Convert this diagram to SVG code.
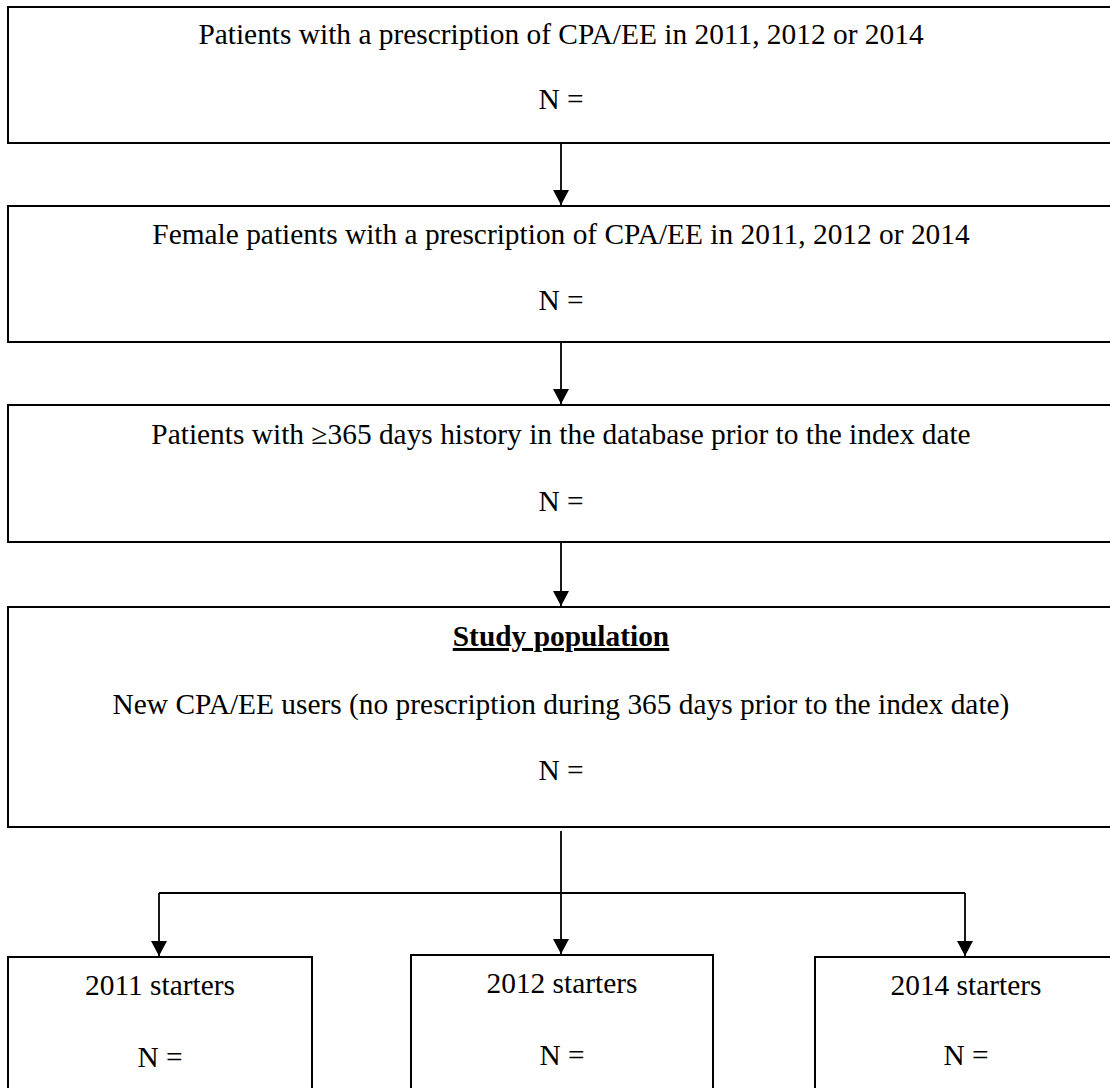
<svg xmlns="http://www.w3.org/2000/svg" width="1110" height="1088" viewBox="0 0 1110 1088">
<style>
.box{fill:#fff;stroke:#000;stroke-width:2}
.t{font-family:"Liberation Serif","Times New Roman",serif;font-size:29.4px;fill:#000;text-anchor:middle}
.b{font-weight:bold;text-decoration:underline}
.c{fill:none;stroke:#000;stroke-width:1.8}
</style>
<defs>
<marker id="ah" markerUnits="userSpaceOnUse" markerWidth="16" markerHeight="16" viewBox="0 0 16 16" refX="15" refY="8" orient="auto">
<path d="M0,0 L15,8 L0,16 Z" fill="#000"/>
</marker>
</defs>
<rect width="1110" height="1088" fill="#fff"/>
<g id="n1">
<rect class="box" x="8" y="7" width="1106" height="136"/>
<text class="t" x="561" y="44">Patients with a prescription of CPA/EE in 2011, 2012 or 2014</text>
<text class="t" x="561" y="109">N =</text>
</g>
<g id="n2">
<rect class="box" x="8" y="206" width="1106" height="136"/>
<text class="t" x="561" y="244">Female patients with a prescription of CPA/EE in 2011, 2012 or 2014</text>
<text class="t" x="561" y="310">N =</text>
</g>
<g id="n3">
<rect class="box" x="8" y="405" width="1106" height="137"/>
<text class="t" x="561" y="444">Patients with ≥365 days history in the database prior to the index date</text>
<text class="t" x="561" y="511">N =</text>
</g>
<g id="n4">
<rect class="box" x="8" y="607" width="1106" height="220"/>
<text class="t b" x="561" y="646">Study population</text>
<text class="t" x="561" y="714">New CPA/EE users (no prescription during 365 days prior to the index date)</text>
<text class="t" x="561" y="780">N =</text>
</g>
<g id="n5">
<rect class="box" x="8" y="957" width="304" height="150"/>
<text class="t" x="160" y="995">2011 starters</text>
<text class="t" x="160" y="1067">N =</text>
</g>
<g id="n6">
<rect class="box" x="411" y="955" width="302" height="150"/>
<text class="t" x="562" y="993">2012 starters</text>
<text class="t" x="562" y="1065">N =</text>
</g>
<g id="n7">
<rect class="box" x="815" y="957" width="300" height="150"/>
<text class="t" x="966" y="995">2014 starters</text>
<text class="t" x="966" y="1065">N =</text>
</g>
<g id="connectors">
<path class="c" d="M561,143 V205" marker-end="url(#ah)"/>
<path class="c" d="M561,342 V404" marker-end="url(#ah)"/>
<path class="c" d="M561,542 V606" marker-end="url(#ah)"/>
<path class="c" d="M561,831 V954" marker-end="url(#ah)"/>
<path class="c" d="M159,893 H965"/>
<path class="c" d="M159,893 V956" marker-end="url(#ah)"/>
<path class="c" d="M965,893 V956" marker-end="url(#ah)"/>
</g>
</svg>
